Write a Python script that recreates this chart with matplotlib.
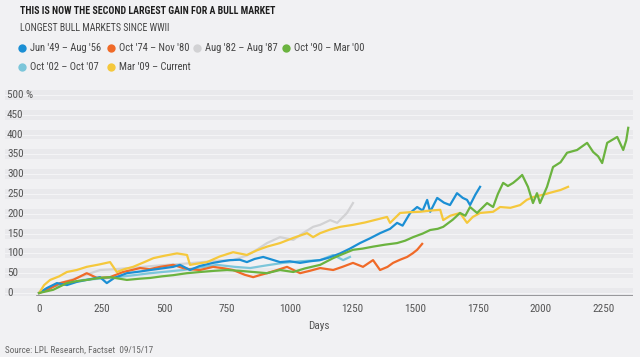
import matplotlib
matplotlib.use('Agg')
import matplotlib.pyplot as plt
from matplotlib.lines import Line2D

# 各段牛市：交易日 与 累计涨幅(%)
jun49_days = [0, 30, 71, 111, 150, 190, 243, 270, 300, 350, 400, 443, 490, 535, 562, 602, 640, 694, 730, 762, 800, 829, 860, 894, 930, 961, 1000, 1041, 1080, 1121, 1160, 1201, 1240, 1280, 1320, 1360, 1400, 1428, 1450, 1480, 1508, 1530, 1548, 1560, 1588, 1615, 1639, 1667, 1690, 1707, 1719, 1740, 1759]
jun49_vals = [0, 12, 25, 20, 28, 33, 40, 25, 38, 50, 54, 58, 62, 66, 71, 58, 68, 76, 80, 83, 84, 78, 86, 91, 84, 78, 80, 76, 80, 83, 90, 100, 112, 126, 138, 151, 162, 177, 170, 202, 217, 208, 235, 205, 240, 228, 222, 252, 240, 235, 222, 248, 268]

oct74_days = [0, 40, 84, 136, 190, 231, 283, 335, 370, 403, 440, 483, 535, 574, 600, 642, 694, 740, 774, 820, 854, 880, 909, 950, 989, 1041, 1080, 1121, 1173, 1210, 1252, 1292, 1332, 1360, 1390, 1412, 1440, 1468, 1490, 1508, 1528]
oct74_vals = [0, 10, 25, 33, 50, 38, 40, 53, 58, 63, 60, 66, 71, 63, 60, 58, 66, 62, 58, 46, 40, 45, 50, 58, 66, 50, 56, 63, 58, 66, 76, 66, 83, 58, 66, 76, 84, 91, 100, 109, 124]

aug82_days = [0, 40, 100, 160, 243, 300, 380, 450, 510, 580, 650, 720, 774, 830, 870, 909, 961, 1014, 1050, 1093, 1121, 1161, 1189, 1228, 1252]
aug82_vals = [0, 15, 28, 40, 58, 60, 64, 68, 71, 74, 78, 82, 83, 95, 110, 126, 141, 134, 150, 167, 172, 184, 177, 202, 227]

oct90_days = [0, 56, 111, 150, 190, 240, 283, 350, 400, 443, 490, 535, 590, 642, 700, 750, 800, 854, 909, 961, 1014, 1060, 1121, 1173, 1210, 1252, 1290, 1332, 1380, 1428, 1460, 1492, 1530, 1560, 1590, 1612, 1650, 1679, 1700, 1719, 1747, 1787, 1811, 1830, 1851, 1870, 1891, 1910, 1927, 1950, 1970, 1986, 1998, 2026, 2050, 2080, 2106, 2146, 2186, 2210, 2230, 2246, 2266, 2306, 2330, 2342, 2350]
oct90_vals = [0, 8, 25, 30, 33, 38, 40, 33, 36, 38, 42, 45, 50, 53, 56, 58, 56, 53, 50, 58, 53, 62, 71, 88, 98, 109, 112, 117, 122, 126, 132, 141, 150, 159, 162, 167, 185, 202, 195, 217, 202, 227, 217, 250, 278, 270, 278, 288, 298, 268, 227, 252, 227, 268, 318, 330, 354, 361, 379, 356, 345, 328, 379, 394, 361, 385, 417]

oct02_days = [0, 44, 100, 175, 240, 310, 380, 443, 510, 574, 640, 710, 780, 842, 910, 973, 1040, 1121, 1173, 1213, 1240]
oct02_vals = [0, 15, 22, 33, 36, 40, 45, 50, 54, 58, 64, 71, 66, 63, 70, 76, 80, 83, 96, 83, 91]

mar09_days = [0, 20, 44, 80, 111, 150, 190, 240, 283, 310, 340, 375, 420, 456, 500, 550, 590, 602, 630, 670, 720, 774, 829, 870, 909, 961, 1014, 1069, 1093, 1121, 1160, 1201, 1252, 1300, 1350, 1388, 1400, 1440, 1480, 1520, 1560, 1600, 1612, 1640, 1679, 1707, 1730, 1759, 1811, 1839, 1880, 1919, 1945, 1970, 2010, 2050, 2080, 2110]
mar09_vals = [0, 20, 33, 42, 53, 58, 66, 72, 78, 53, 60, 66, 78, 88, 94, 100, 96, 71, 74, 78, 92, 103, 96, 108, 117, 126, 139, 151, 141, 151, 160, 167, 172, 178, 186, 192, 177, 202, 204, 205, 208, 210, 184, 195, 202, 177, 192, 202, 205, 217, 215, 222, 235, 242, 248, 255, 260, 268]

labels = ["Jun '49 – Aug '56", "Oct '74 – Nov '80", "Aug '82 – Aug '87",
          "Oct '90 – Mar '00", "Oct '02 – Oct '07", "Mar '09 – Current"]
colors = ['#1b8fd4', '#f06a28', '#d2d2d4', '#6bb33f', '#7cc6da', '#f5c83c']
y_ticks = [0, 50, 100, 150, 200, 250, 300, 350, 400, 450, 500]
x_ticks = [0, 250, 500, 750, 1000, 1250, 1500, 1750, 2000, 2250]

plt.rcParams['font.family'] = ['Roboto Condensed', 'DejaVu Sans']
BG = '#f1f1f3'
GREY = '#555555'

fig = plt.figure(figsize=(6.4, 3.57), dpi=100, facecolor=BG)
ax = fig.add_axes([5 / 640, 1 - 296 / 357, 628 / 640, 209 / 357])
ax.set_facecolor(BG)
ax.set_xlim(-136, 2369)
ax.set_ylim(-7.6, 520)

# 横向条纹背景
for v in y_ticks:
    ax.axhspan(v - 12.5, v + 12.5, color='#e9e9ec', lw=0, zorder=0)
    ax.axhline(v, color='#f7f7f9', lw=0.6, zorder=0)

# 绘制曲线（按叠放顺序）
series = [
    (aug82_days, aug82_vals, 2),
    (oct02_days, oct02_vals, 4),
    (oct74_days, oct74_vals, 1),
    (jun49_days, jun49_vals, 0),
    (mar09_days, mar09_vals, 5),
    (oct90_days, oct90_vals, 3),
]
for d, v, i in series:
    ax.plot(d, v, color=colors[i], lw=1.6, solid_joinstyle='round', zorder=3)

for s in ['top', 'right', 'left', 'bottom']:
    ax.spines[s].set_visible(False)
ax.axhline(-7.6, xmin=(0 - (-136)) / 2505 - 0.003, xmax=1, color='#8a8a8c', lw=1.2, zorder=4)

ax.set_yticks([])
ax.set_xticks(x_ticks)
ax.set_xticklabels([str(t) for t in x_ticks], fontsize=8, color=GREY)
ax.tick_params(axis='x', length=0, pad=6)
for t in y_ticks:
    lab = '500 %' if t == 500 else str(t)
    ax.text(-128, t, lab, fontsize=8, color=GREY, ha='left', va='center')

ax.set_xlabel('Days', fontsize=8, color=GREY, labelpad=5)

# 标题
fig.text(20 / 640, 1 - 11 / 357, 'THIS IS NOW THE SECOND LARGEST GAIN FOR A BULL MARKET',
         fontsize=7.1, fontweight='bold', color='#1e1e1e', va='center')
fig.text(20 / 640, 1 - 28 / 357, 'LONGEST BULL MARKETS SINCE WWII',
         fontsize=7.1, color='#444444', va='center')

# 图例
legend_pos = [(22, 48), (111, 48), (197, 48), (286, 48), (22, 67), (111, 67)]
for (lx, ly), lab, c in zip(legend_pos, labels, colors):
    fig.add_artist(Line2D([lx / 640], [1 - ly / 357], marker='o', markersize=6,
                          color=c, markeredgewidth=0, transform=fig.transFigure))
    fig.text((lx + 8) / 640, 1 - ly / 357, lab, fontsize=7.6, color='#444444', va='center')

fig.text(5 / 640, 1 - 350 / 357, 'Source: LPL Research, Factset  09/15/17',
         fontsize=6.6, color='#666666', va='center')

plt.savefig('out.png', dpi=100, facecolor=BG)
plt.close()
